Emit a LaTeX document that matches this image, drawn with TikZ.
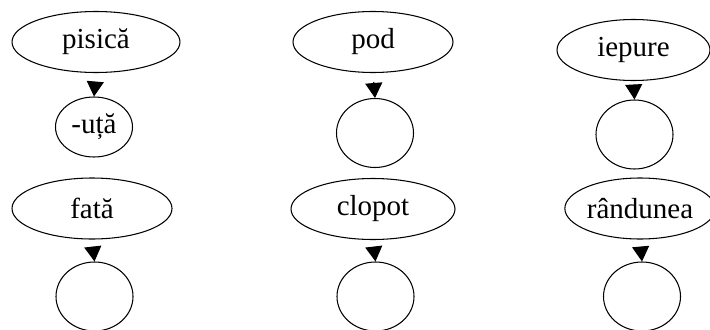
\documentclass[tikz,border=0pt]{standalone}
\usepackage{fontspec}
\setmainfont{Liberation Serif}
\usetikzlibrary{shapes.geometric,arrows.meta}

\begin{document}
\begin{tikzpicture}[
       cuvant/.style={draw,ellipse,line width=0.6pt,inner sep=0pt,
           minimum width=3.2cm,minimum height=1.22cm,
           font=\fontsize{16.5}{20}\selectfont},
       sufix/.style={draw,ellipse,line width=0.6pt,inner sep=0pt,
           minimum width=1.54cm,minimum height=1.38cm,
           font=\fontsize{16.5}{20}\selectfont},
       sageata/.style={-{Triangle[width=0.34cm,length=0.3cm]},
           line width=0.6pt,shorten <=0.18cm}]
       \useasboundingbox(0,0)rectangle(14.2,-6.58);%margini

       % randul de sus
       \node[cuvant,minimum width=3.36cm](pisica)at(1.92,-0.84){pisică};
       \node[sufix,minimum height=1.2cm](uta)at(1.88,-2.54){-uță};
       \node[cuvant](pod)at(7.46,-0.84){pod};
       \node[sufix](podS)at(7.50,-2.66){};
       \node[cuvant,minimum width=3.06cm](iepure)at(12.67,-1.0){iepure};
       \node[sufix](iepureS)at(12.69,-2.69){};

       % randul de jos
       \node[cuvant](fata)at(1.84,-4.17){fată};
       \node[sufix](fataS)at(1.89,-5.93){};
       \node[cuvant,minimum width=3.28cm](clopot)at(7.46,-4.18){clopot};
       \node[sufix](clopotS)at(7.51,-5.93){};
       \node[cuvant,minimum width=2.92cm](randunea)at(12.80,-4.17){rândunea};
       \node[sufix](randuneaS)at(12.84,-5.93){};

       \foreach \a/\b in{pisica/uta,pod/podS,iepure/iepureS,
           fata/fataS,clopot/clopotS,randunea/randuneaS}
           \draw[sageata](\a.south)--(\b.north);%sageti
\end{tikzpicture}
\end{document}
